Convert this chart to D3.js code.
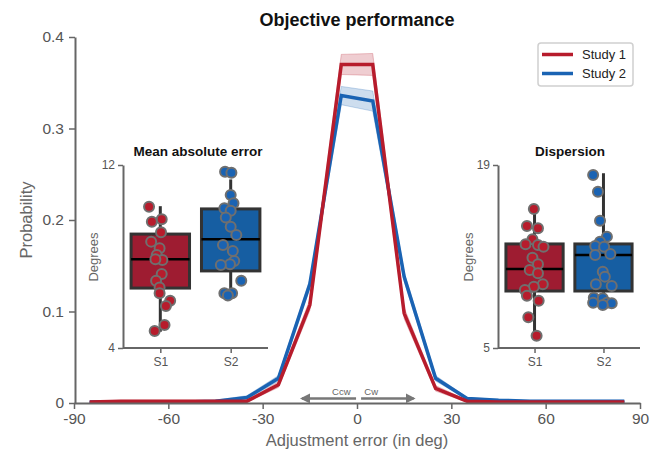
<!DOCTYPE html>
<html>
<head>
<meta charset="utf-8">
<script src="https://cdn.jsdelivr.net/npm/d3@7"></script>
<style>
    body { margin: 0; background: #fff; }
    svg { font-family: "Liberation Sans", Arial, sans-serif; }
</style>
</head>
<body>
<div id="chart"></div>
<script>
// Objective performance: error distributions + two inset box plots

const bins = [-85, -75, -65, -55, -45, -35, -25, -15, -5, 5, 15, 25, 35, 45, 55, 65, 75, 85];
const study1 = [0.001, 0.002, 0.002, 0.002, 0.002, 0.002, 0.020, 0.107, 0.370, 0.370, 0.098, 0.016, 0.002, 0.001, 0.001, 0.001, 0.001, 0.001];
const study2 = [0.001, 0.001, 0.001, 0.001, 0.002, 0.006, 0.027, 0.130, 0.336, 0.330, 0.138, 0.027, 0.005, 0.003, 0.002, 0.002, 0.002, 0.002];
const study1Ci = [0.001, 0.001, 0.001, 0.001, 0.001, 0.001, 0.003, 0.006, 0.011, 0.012, 0.006, 0.003, 0.001, 0.001, 0.001, 0.001, 0.001, 0.001];
const study2Ci = [0.001, 0.001, 0.001, 0.001, 0.001, 0.002, 0.003, 0.005, 0.010, 0.011, 0.005, 0.003, 0.001, 0.001, 0.001, 0.001, 0.001, 0.001];
const seriesNames = ['Study 1', 'Study 2'];
const xTicks = [-90, -60, -30, 0, 30, 60, 90];
const yTicks = [0, 0.1, 0.2, 0.3, 0.4];

// inset: mean absolute error (degrees)
const maeS1 = [10.18, 9.63, 9.52, 9.06, 8.65, 8.36, 8.07, 7.85, 7.88, 7.23, 6.94, 6.65, 6.39, 6.07, 5.84, 5.01, 4.74];
const maeS1Jitter = [-0.16, 0.02, -0.12, 0.01, -0.13, -0.01, -0.05, 0.03, -0.07, 0.02, -0.06, -0.01, -0.01, 0.14, 0.08, 0.06, -0.08];
const maeS2 = [11.71, 11.66, 10.69, 10.33, 10.11, 10.00, 9.71, 9.30, 8.94, 8.50, 8.24, 7.80, 7.66, 7.63, 6.94, 6.39, 6.39, 6.29];
const maeS2Jitter = [-0.08, 0.01, 0.00, 0.04, -0.09, 0.00, -0.07, 0.00, 0.08, -0.11, 0.03, 0.05, -0.01, -0.14, 0.15, -0.09, 0.02, -0.04];
// box stats: [whisker low, q1, median, q3, whisker high]
const maeS1Box = [4.71, 6.62, 7.88, 8.98, 10.2];
const maeS2Box = [6.24, 7.37, 8.75, 10.08, 11.37];

// inset: dispersion (degrees)
const dispS1 = [15.64, 14.33, 14.16, 13.32, 12.93, 12.88, 12.75, 11.91, 11.40, 10.97, 10.72, 9.87, 9.69, 9.44, 9.00, 8.62, 7.35, 5.94];
const dispS1Jitter = [-0.01, -0.11, 0.05, -0.03, -0.13, 0.05, 0.13, -0.03, 0.05, -0.07, 0.05, 0.12, -0.01, -0.14, -0.11, 0.06, -0.09, 0.03];
const dispS2 = [18.24, 16.96, 14.74, 13.52, 13.13, 12.80, 12.75, 12.12, 12.19, 10.84, 10.46, 9.87, 9.74, 8.85, 8.80, 8.47, 8.47, 8.42, 8.29];
const dispS2Jitter = [-0.15, -0.08, -0.05, 0.05, -0.05, -0.12, 0.01, -0.12, 0.10, -0.01, 0.02, -0.11, 0.12, -0.14, -0.01, -0.15, 0.05, 0.12, -0.01];
const dispS1Box = [6.0, 9.36, 11.04, 12.96, 15.56];
const dispS2Box = [8.42, 9.36, 12.12, 12.96, 18.37];

const COLORS = {
    red: '#b71c2c',
    blue: '#1a63b3',
    redBox: '#9e1c31',
    blueBox: '#165ea2',
    axis: '#666',
    tick: '#555'
};

const W = 660, H = 453;
const svg = d3.select('#chart').append('svg')
    .attr('width', W)
    .attr('height', H);

const x = d3.scaleLinear().domain([-90, 90]).range([74, 640]);
const y = d3.scaleLinear().domain([0, 0.4]).range([403, 37]);

const rows = bins.map((b, i) => ({ b, s1: study1[i], s2: study2[i], c1: study1Ci[i], c2: study2Ci[i] }));

const series = [
    { key: 's1', ci: 'c1', color: COLORS.red },
    { key: 's2', ci: 'c2', color: COLORS.blue }
];

// confidence bands
series.forEach(s => {
    svg.append('path')
        .datum(rows)
        .attr('fill', s.color)
        .attr('fill-opacity', 0.22)
        .attr('stroke', s.color)
        .attr('stroke-opacity', 0.25)
        .attr('stroke-width', 1)
        .attr('d', d3.area()
            .x(d => x(d.b))
            .y0(d => y(Math.max(0, d[s.key] - d[s.ci])))
            .y1(d => y(d[s.key] + d[s.ci])));
});

// blue under red
[series[1], series[0]].forEach(s => {
    svg.append('path')
        .datum(rows)
        .attr('fill', 'none')
        .attr('stroke', s.color)
        .attr('stroke-width', 3.5)
        .attr('d', d3.line().x(d => x(d.b)).y(d => y(d[s.key])));
});

// axes
const xAxis = svg.append('g')
    .attr('transform', `translate(0,${y(0)})`)
    .call(d3.axisBottom(x).tickValues(xTicks).tickFormat(d => String(d))
        .tickSize(6).tickSizeOuter(0).tickPadding(4));
const yAxis = svg.append('g')
    .attr('transform', `translate(${x(-90) + 1},0)`)
    .call(d3.axisLeft(y).tickValues(yTicks).tickFormat(d => d === 0 ? '0' : d3.format('.1f')(d))
        .tickSize(6).tickSizeOuter(0).tickPadding(5));

[xAxis, yAxis].forEach(g => {
    g.select('.domain').attr('stroke', COLORS.axis).attr('stroke-width', 2);
    g.selectAll('.tick line').attr('stroke', COLORS.axis).attr('stroke-width', 1.5);
    g.selectAll('.tick text').attr('fill', COLORS.tick).attr('font-size', '15.5px');
});

// direction arrows
svg.append('defs').append('marker')
    .attr('id', 'arrowhead')
    .attr('viewBox', '0 0 10 10')
    .attr('refX', 8).attr('refY', 5)
    .attr('markerWidth', 4).attr('markerHeight', 4)
    .attr('orient', 'auto')
    .append('path')
    .attr('d', 'M0,0 L10,5 L0,10 z')
    .attr('fill', '#777');

[[-0.3, -17.5, 'Ccw', -5], [1.3, 18, 'Cw', 4.5]].forEach(([from, to, label, lx]) => {
    svg.append('line')
        .attr('x1', x(from)).attr('x2', x(to))
        .attr('y1', y(0.005)).attr('y2', y(0.005))
        .attr('stroke', '#777')
        .attr('stroke-width', 2.5)
        .attr('marker-end', 'url(#arrowhead)');
    svg.append('text')
        .attr('x', x(lx))
        .attr('y', y(0.005) - 3)
        .attr('text-anchor', 'middle')
        .attr('font-size', '9.5px')
        .attr('fill', '#666')
        .text(label);
});

// labels
svg.append('text')
    .attr('x', x(0))
    .attr('y', 26)
    .attr('text-anchor', 'middle')
    .attr('font-size', '18px')
    .attr('font-weight', 'bold')
    .attr('fill', '#111')
    .text('Objective performance');

svg.append('text')
    .attr('x', x(0))
    .attr('y', 446)
    .attr('text-anchor', 'middle')
    .attr('font-size', '16.5px')
    .attr('fill', '#666')
    .text('Adjustment error (in deg)');

svg.append('text')
    .attr('transform', 'rotate(-90)')
    .attr('x', -y(0.2))
    .attr('y', 32)
    .attr('text-anchor', 'middle')
    .attr('font-size', '16.5px')
    .attr('fill', '#666')
    .text('Probability');

// legend
const legend = svg.append('g').attr('transform', 'translate(538,43)');
legend.append('rect')
    .attr('width', 95).attr('height', 43)
    .attr('rx', 3)
    .attr('fill', '#fff')
    .attr('stroke', '#d0d0d0')
    .attr('stroke-width', 1.5);
seriesNames.forEach((name, i) => {
    const ly = 11.5 + i * 19;
    legend.append('line')
        .attr('x1', 4).attr('x2', 35)
        .attr('y1', ly).attr('y2', ly)
        .attr('stroke', i === 0 ? COLORS.red : COLORS.blue)
        .attr('stroke-width', 3.5);
    legend.append('text')
        .attr('x', 44).attr('y', ly + 4.5)
        .attr('font-size', '13px')
        .attr('fill', '#222')
        .text(name);
});

// inset box plots
function drawInset(opts) {
    const g = svg.append('g');
    const iy = d3.scaleLinear().domain(opts.domain).range([348, 165]);
    const ix = d3.scalePoint().domain(['S1', 'S2']).range(opts.xRange).padding(0.53);
    const step = ix.step();
    const boxW = step * 0.83;

    const groups = [
        { cat: 'S1', box: opts.box1, vals: opts.v1, jit: opts.j1, fill: COLORS.redBox, dot: COLORS.red },
        { cat: 'S2', box: opts.box2, vals: opts.v2, jit: opts.j2, fill: COLORS.blueBox, dot: COLORS.blue }
    ];

    groups.forEach(gr => {
        const cx = ix(gr.cat);
        const [lo, q1, med, q3, hi] = gr.box;
        g.append('line')
            .attr('x1', cx).attr('x2', cx)
            .attr('y1', iy(lo)).attr('y2', iy(hi))
            .attr('stroke', '#333')
            .attr('stroke-width', 3);
        g.append('rect')
            .attr('x', cx - boxW / 2)
            .attr('y', iy(q3))
            .attr('width', boxW)
            .attr('height', iy(q1) - iy(q3))
            .attr('fill', gr.fill)
            .attr('stroke', '#333')
            .attr('stroke-width', 3);
        g.append('line')
            .attr('x1', cx - boxW / 2).attr('x2', cx + boxW / 2)
            .attr('y1', iy(med)).attr('y2', iy(med))
            .attr('stroke', '#000')
            .attr('stroke-width', 2.5);
        g.selectAll(null)
            .data(gr.vals)
            .enter().append('circle')
            .attr('cx', (d, i) => cx + gr.jit[i] * step)
            .attr('cy', d => iy(d))
            .attr('r', 5)
            .attr('fill', gr.dot)
            .attr('stroke', '#6f6f6f')
            .attr('stroke-width', 2);
    });

    const ax = g.append('g')
        .attr('transform', 'translate(0,348)')
        .call(d3.axisBottom(ix).tickSize(5).tickSizeOuter(0).tickPadding(4));
    const ay = g.append('g')
        .attr('transform', `translate(${opts.xRange[0]},0)`)
        .call(d3.axisLeft(iy).tickValues(opts.domain).tickSize(5).tickSizeOuter(0).tickPadding(3));
    ax.select('.domain').attr('d', `M${opts.xRange[0]},0H${opts.xRange[1]}`);
    [ax, ay].forEach(a => {
        a.select('.domain').attr('stroke', COLORS.axis).attr('stroke-width', 2);
        a.selectAll('.tick line').attr('stroke', COLORS.axis).attr('stroke-width', 1.5);
        a.selectAll('.tick text').attr('fill', COLORS.tick).attr('font-size', '12px');
    });

    g.append('text')
        .attr('x', opts.titleX)
        .attr('y', 156)
        .attr('text-anchor', 'middle')
        .attr('font-size', '13.5px')
        .attr('font-weight', 'bold')
        .attr('fill', '#111')
        .text(opts.title);

    g.append('text')
        .attr('transform', 'rotate(-90)')
        .attr('x', -257)
        .attr('y', opts.xRange[0] - 25)
        .attr('text-anchor', 'middle')
        .attr('font-size', '13px')
        .attr('fill', '#666')
        .text('Degrees');
}

drawInset({
    title: 'Mean absolute error', titleX: 198,
    domain: [4, 12], xRange: [123, 268],
    v1: maeS1, j1: maeS1Jitter, box1: maeS1Box,
    v2: maeS2, j2: maeS2Jitter, box2: maeS2Box
});

drawInset({
    title: 'Dispersion', titleX: 570,
    domain: [5, 19], xRange: [498, 640],
    v1: dispS1, j1: dispS1Jitter, box1: dispS1Box,
    v2: dispS2, j2: dispS2Jitter, box2: dispS2Box
});
</script>
</body>
</html>
